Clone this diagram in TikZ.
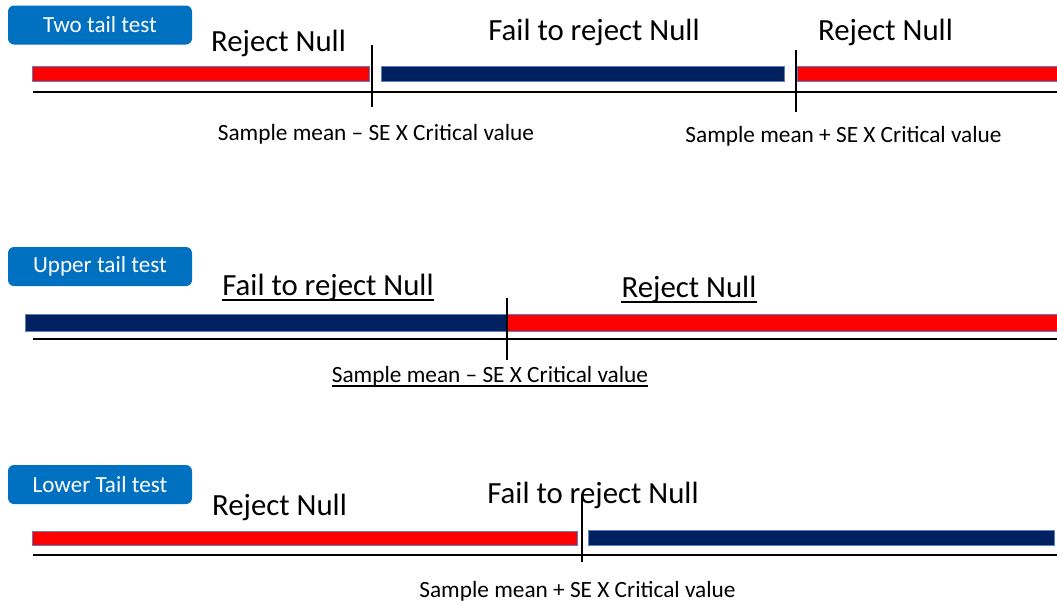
\documentclass[tikz,border=0pt]{standalone}
\usepackage{fontspec}
\setmainfont{Carlito}
\definecolor{barred}{HTML}{FF0000}
\definecolor{barnavy}{HTML}{002060}
\definecolor{boxblue}{HTML}{0070C0}
\definecolor{barline}{HTML}{5B7FC0}
\begin{document}
\begin{tikzpicture}[x=1pt,y=-1pt,
	testbox/.style={fill=boxblue,rounded corners=6pt,minimum width=184pt,minimum height=39pt,inner sep=0pt,text=white,font=\fontsize{23.1}{27}\selectfont},
	bigtext/.style={anchor=base,inner sep=0pt,font=\fontsize{30.8}{36}\selectfont},
	smalltext/.style={anchor=base,inner sep=0pt,font=\fontsize{23.3}{27}\selectfont},
	redbar/.style={fill=barred,draw=barline,line width=0.6pt},
	navybar/.style={fill=barnavy,draw=barline,line width=0.6pt},
	axisline/.style={line width=1.6pt},
	tickline/.style={line width=1.2pt},
	uline/.style={line width=1.4pt}]
		\useasboundingbox (0,0) rectangle (1057,603);
		% two tail test
		\node[testbox] (twobox) at (100,25) {Two tail test};
		\node[bigtext] (tworejl) at (278.5,51) {Reject Null};
		\node[bigtext] (twofail) at (594,40) {Fail to reject Null};
		\node[bigtext] (tworejr) at (885.5,40) {Reject Null};
		\draw[redbar] (32,66) rectangle (369,81);
		\draw[navybar] (381,66) rectangle (784,81);
		\draw[redbar] (797,66) rectangle (1060,81);
		\draw[axisline] (33,92) -- (1057,92);
		\draw[tickline] (372,45) -- (372,107);
		\draw[tickline] (796,50) -- (796,112);
		\node[smalltext] (twolow) at (376,140) {Sample mean – SE X Critical value};
		\node[smalltext] (twoup) at (843.5,142) {Sample mean + SE X Critical value};
		% upper tail test
		\node[testbox] (upbox) at (100,266.5) {Upper tail test};
		\node[bigtext] (upfail) at (328,295) {Fail to reject Null};
		\node[bigtext] (uprej) at (689,297) {Reject Null};
		\draw[uline] ([yshift=-5pt]upfail.base west) -- ([yshift=-5pt]upfail.base east);
		\draw[uline] ([yshift=-5pt]uprej.base west) -- ([yshift=-5pt]uprej.base east);
		\draw[navybar] (25,314) rectangle (507,331);
		\draw[redbar] (507,314) rectangle (1060,331);
		\draw[axisline] (33,339) -- (1057,339);
		\draw[tickline] (507,298) -- (507,360);
		\node[smalltext] (upcrit) at (490,382) {Sample mean – SE X Critical value};
		\draw[uline,line width=1.1pt] ([yshift=-4pt]upcrit.base west) -- ([yshift=-4pt]upcrit.base east);
		% lower tail test
		\node[testbox] (lowbox) at (100,484.5) {Lower Tail test};
		\node[bigtext] (lowrej) at (279.5,515) {Reject Null};
		\node[bigtext] (lowfail) at (593,503) {Fail to reject Null};
		\draw[redbar] (32,531) rectangle (577,545);
		\draw[navybar] (588,530) rectangle (1054,545);
		\draw[axisline] (33,555) -- (1057,555);
		\draw[tickline] (582,495) -- (582,562);
		\node[smalltext] (lowcrit) at (577.5,597) {Sample mean + SE X Critical value};
	\end{tikzpicture}
\end{document}
